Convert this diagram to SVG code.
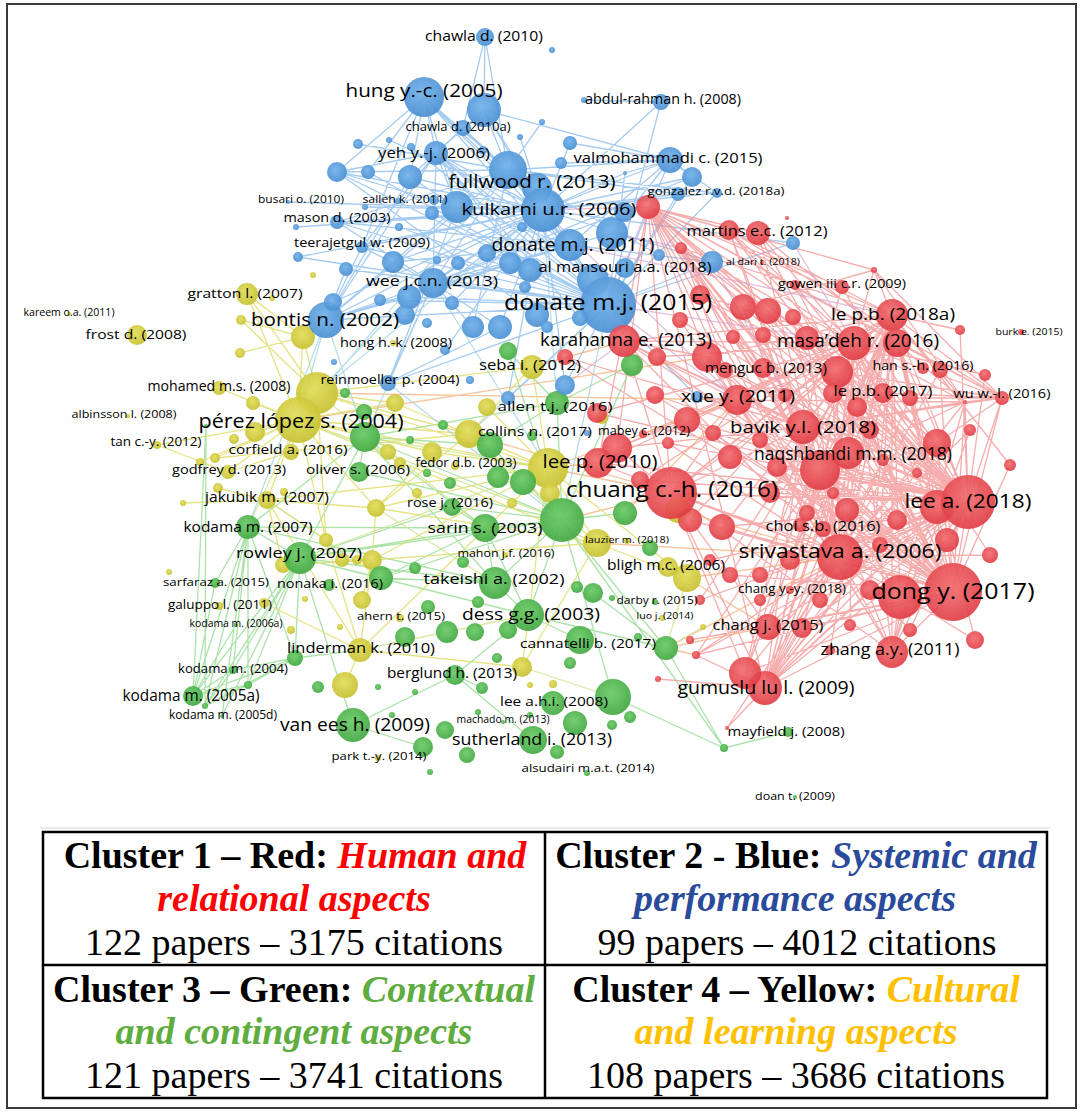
<svg xmlns="http://www.w3.org/2000/svg" width="1081" height="1117" viewBox="0 0 1081 1117">
<defs>
<radialGradient id="gb" cx="45%" cy="40%" r="60%"><stop offset="0" stop-color="#72b2ea"/><stop offset="1" stop-color="#4a8fd2"/></radialGradient>
<radialGradient id="gr" cx="45%" cy="40%" r="60%"><stop offset="0" stop-color="#f26e70"/><stop offset="1" stop-color="#df3a42"/></radialGradient>
<radialGradient id="gg" cx="45%" cy="40%" r="60%"><stop offset="0" stop-color="#6acb66"/><stop offset="1" stop-color="#42a842"/></radialGradient>
<radialGradient id="gy" cx="45%" cy="40%" r="60%"><stop offset="0" stop-color="#e2de5c"/><stop offset="1" stop-color="#c6c030"/></radialGradient>
<style>
.e{fill:none;stroke-width:1.3;stroke-linecap:round}
.eb{stroke:#95c2ee;opacity:.85}
.er{stroke:#f28686;opacity:.68}
.eg{stroke:#96dc93;opacity:.8}
.ey{stroke:#e2de70;opacity:.85}
.ep{stroke:#d4a0d0;opacity:.65}
.eo{stroke:#f3aa72;opacity:.7}
.el{stroke:#c9e385;opacity:.75}
.ec{stroke:#a2d3e2;opacity:.75}
.b circle{fill:url(#gb);fill-opacity:.92}
.r circle{fill:url(#gr);fill-opacity:.9}
.g circle{fill:url(#gg);fill-opacity:.92}
.y circle{fill:url(#gy);fill-opacity:.92}
.lb text{font-family:"Open Sans","Noto Sans","DejaVu Sans",sans-serif;fill:#000;text-anchor:middle}
.tb text{font-family:"Liberation Serif","Times New Roman",serif;font-size:38px;text-anchor:middle;fill:#000}
.tb .bd{font-weight:bold}
.tb .it{font-weight:bold;font-style:italic}
.tb .cr{fill:#ff0000}
.tb .cb{fill:#2a4b9b}
.tb .cg{fill:#5fad3f}
.tb .cy{fill:#ffc000}
</style>
</defs>
<rect x="0" y="0" width="1081" height="1117" fill="#fff"/>
<rect id="frame" x="7" y="4" width="1069" height="1104" fill="none" stroke="#3a3a3a" stroke-width="2"/>
<line x1="40" y1="828" x2="1050" y2="828" stroke="#e4e4e4" stroke-width="1.5"/>

<g id="connectors">
<path class="e eb" d="M424 97L337 172M424 97L368 172M424 97L436 153M424 97L508 170M424 97L543 210M424 97L457 207M424 97L362 247M424 97L410 177M424 97L570 245M424 97L608 305M485 37L463 128M485 37L484 110M485 37L508 170M484 110L508 170M484 110L543 210M484 110L670 160M484 110L608 305M484 110L436 153M463 128L436 153M463 128L543 210M463 128L508 170M463 128L410 177M436 153L337 172M436 153L410 177M436 153L457 207M436 153L543 210M436 153L570 245M436 153L608 305M436 153L362 247M436 153L433 283M436 153L326 320M436 153L398 201M337 172L543 210M337 172L508 170M337 172L608 305M337 172L457 207M508 170L670 160M508 170L608 305M508 170L570 245M508 170L543 210M508 170L326 320M508 170L433 283M508 170L337 222M508 170L717 193M508 170L678 194M543 210L670 160M543 210L692 177M543 210L678 194M543 210L717 193M543 210L608 305M543 210L326 320M543 210L433 283M543 210L362 247M543 210L298 257M543 210L337 222M543 210L365 207M543 210L288 202M543 210L793 243M543 210L712 262M543 210L661 102M543 210L570 143M543 210L625 173M608 305L670 160M608 305L692 177M608 305L678 194M608 305L717 193M608 305L326 320M608 305L433 283M608 305L388 383M608 305L362 247M608 305L346 269M608 305L409 297M608 305L337 222M608 305L565 385M608 305L697 397M608 305L508 398M608 305L793 243M608 305L712 262M608 305L661 102M608 305L625 173M570 245L326 320M570 245L433 283M570 245L409 297M570 245L393 262M570 245L337 222M570 245L670 160M570 245L712 262M326 320L433 283M326 320L409 297M326 320L393 262M326 320L346 269M326 320L362 247M326 320L457 207M326 320L410 177M433 283L337 222M433 283L362 247M433 283L500 327M433 283L473 327M433 283L388 383M670 160L625 173M670 160L692 177M670 160L717 193M670 160L612 233M670 160L570 143M670 160L561 163M661 102L584 100M388 383L457 207M388 383L500 327M389 140L543 210M358 144L508 170M520 137L543 210M542 122L508 170M411 147L608 305M368 172L608 305M410 177L543 210M410 177L608 305M457 207L608 305M457 207L570 245M432 213L608 305M434 200L543 210M296 227L543 210M399 227L608 305M298 257L608 305M393 262L543 210M487 253L608 305M510 263L326 320M612 233L326 320M624 212L433 283M659 255L508 170M409 297L543 210M530 270L436 153M593 280L436 153M333 302L543 210M405 315L543 210M500 327L543 210M473 327L508 170M565 385L543 210M508 398L543 210M452 303L543 210M537 315L337 172M380 300L608 305M580 318L436 153M445 350L543 210M692 177L433 283"/>
<path class="e er" d="M648 207L892 315M648 207L854 343M648 207L897 343M648 207L837 372M648 207L803 427M648 207L820 470M648 207L848 453M648 207L937 443M648 207L968 502M648 207L840 557M648 207L953 592M648 207L900 597M648 207L737 400M648 207L707 357M648 207L743 307M648 207L768 311M648 207L729 230M648 207L758 233M648 207L874 270M648 207L671 493M648 207L617 448M648 207L598 463M648 207L765 688M648 207L892 652M648 207L1002 398M648 207L842 287M648 207L807 338M681 248L854 343M681 248L892 315M681 248L803 427M681 248L840 557M681 248L968 502M681 248L953 592M681 248L737 400M681 248L820 470M681 248L937 443M729 230L892 315M729 230L854 343M729 230L837 372M729 230L803 427M729 230L968 502M729 230L840 557M758 233L953 592M758 233L820 470M758 233L897 343M758 233L937 443M874 270L892 315M874 270L1002 398M874 270L854 343M874 270L743 307M874 270L965 402M842 287L968 502M842 287L803 427M1002 398L965 402M1002 398L892 315M1002 398L897 343M1002 398L837 372M1002 398L937 443M1002 398L968 502M1002 398L953 592M1002 398L803 427M1002 398L883 393M1002 398L910 398M1002 398L854 343M965 402L854 343M965 402L892 315M965 402L803 427M965 402L968 502M965 402L820 470M965 402L840 557M965 402L953 592M965 402L892 652M965 402L897 343M965 402L737 400M892 315L968 502M892 315L953 592M892 315L840 557M892 315L803 427M892 315L820 470M892 315L737 400M892 315L671 493M892 315L707 357M892 315L892 652M892 315L765 688M892 315L900 597M854 343L968 502M854 343L953 592M854 343L840 557M854 343L737 400M854 343L671 493M854 343L892 652M854 343L765 688M854 343L820 470M897 343L840 557M897 343L953 592M897 343L968 502M897 343L820 470M897 343L737 400M837 372L953 592M837 372L968 502M837 372L671 493M837 372L840 557M737 400L953 592M737 400L968 502M737 400L840 557M737 400L671 493M737 400L900 597M737 400L892 652M803 427L953 592M803 427L968 502M803 427L840 557M803 427L671 493M803 427L765 688M803 427L892 652M820 470L953 592M820 470L968 502M820 470L840 557M820 470L765 688M820 470L892 652M820 470L768 627M820 470L900 597M937 443L953 592M937 443L840 557M937 443L892 652M937 443L765 688M968 502L953 592M968 502L840 557M968 502L892 652M968 502L765 688M968 502L768 627M968 502L671 493M968 502L900 597M840 557L953 592M840 557L765 688M840 557L892 652M840 557L768 627M840 557L671 493M840 557L727 728M840 557L745 673M953 592L892 652M953 592L765 688M953 592L768 627M953 592L802 628M953 592L671 493M953 592L745 673M671 493L765 688M671 493L768 627M671 493L892 652M671 493L617 448M671 493L745 673M765 688L727 728M765 688L696 655M765 688L802 628M765 688L658 679M745 673L803 427M745 673L854 343M745 673L892 315M617 448L737 400M617 448L803 427M617 448L854 343M707 357L968 502M707 357L953 592M707 357L840 557M743 307L968 502M743 307L840 557M743 307L820 470M768 311L953 592M768 311L803 427M624 341L737 400M624 341L803 427M624 341L854 343M624 341L892 315M624 341L968 502M624 341L840 557M624 341L707 357M624 341L671 493M624 341L820 470M696 655L840 557M696 655L968 502M696 655L953 592M696 655L820 470M598 463L737 400M598 463L840 557M598 463L968 502M700 295L854 343M700 295L837 372M700 295L968 502M657 357L854 343M657 357L968 502M657 357L953 592M892 652L900 597M687 420L854 343M687 420L968 502M687 420L953 592M730 457L892 315M730 457L953 592M793 317L953 592M793 317L968 502M793 317L840 557M733 337L968 502M733 337L953 592M763 335L840 557M763 335L968 502M807 338L953 592M807 338L840 557M807 338L968 502M725 370L968 502M725 370L953 592M833 393L953 592M833 393L840 557M857 407L953 592M857 407L765 688M910 398L953 592M910 398L840 557M917 473L953 592M713 433L968 502M713 433L953 592M668 443L968 502M668 443L840 557M777 467L953 592M777 467L968 502M883 460L765 688M883 460L953 592M770 493L953 592M770 493L968 502M770 493L892 315M833 493L854 343M833 493L953 592M807 513L892 315M807 513L953 592M847 510L854 343M847 510L892 315M847 510L765 688M897 520L765 688M897 520L854 343M937 507L854 343M937 507L892 315M937 507L765 688M937 507L840 557M722 527L968 502M722 527L892 315M722 527L953 592M690 520L953 592M690 520L854 343M597 413L854 343M597 413L968 502M565 357L803 427M565 357L953 592M947 540L854 343M947 540L765 688M802 628L892 315M802 628L968 502M790 560L892 315M790 560L968 502M760 575L968 502M760 575L854 343M730 575L953 592M730 575L892 315M710 560L968 502M820 600L968 502M820 600L854 343M870 590L765 688M870 590L892 315M880 545L765 688M880 545L892 315M910 630L968 502M910 630L840 557M975 640L840 557M975 640L892 315M990 555L854 343M990 555L840 557M1010 465L892 315M1010 465L953 592M970 430L840 557M970 430L892 652M940 370L840 557M940 370L953 592M985 375L968 502M985 375L854 343M960 330L968 502M960 330L892 315M795 285L968 502M795 285L953 592M680 320L968 502M680 320L840 557M655 395L968 502M655 395L953 592M640 480L968 502M640 480L892 315M700 600L968 502M700 600L892 315M760 600L892 315M760 600L968 502M830 650L892 315M850 625L854 343M690 640L953 592M800 525L892 315M800 525L953 592M870 430L953 592M870 430L765 688M760 440L953 592M760 440L892 652M785 395L968 502M785 395L840 557M823 529L892 315M790 590L892 315M790 590L968 502M643 434L854 343M729 230L1002 398"/>
<path class="e ep" d="M608 305L737 400M608 305L854 343M543 210L737 400M570 245L892 315M608 305L648 207M543 210L648 207M612 233L681 248M565 385L624 341M697 397L737 400M712 262L803 427M793 243L854 343"/>
<path class="e eo" d="M548 468L671 493M548 468L737 400M298 420L707 357M317 393L737 400M469 434L671 493M687 578L840 557M687 578L768 627M597 543L840 557M666 648L840 557M666 648L768 627M666 648L696 655M562 520L671 493M625 513L737 400M548 468L598 463M532 367L624 341M678 510L840 557"/>
<path class="e eg" d="M193 696L248 527M193 696L300 558M193 696L233 670M193 696L248 685M193 696L295 658M193 696L215 583M193 696L206 426M193 696L236 625M205 706L248 527M205 706L300 558M205 706L233 670M205 706L248 685M205 706L295 658M233 670L248 527M233 670L300 558M233 670L295 658M248 685L248 527M248 685L300 558M248 685L295 658M295 658L248 527M295 658L300 558M295 658L360 650M215 583L248 527M222 716L248 527M222 716L300 558M206 426L205 706M562 520L485 528M562 520L495 583M562 520L528 615M562 520L557 403M562 520L365 437M562 520L359 472M562 520L452 507M562 520L300 558M562 520L381 578M562 520L666 648M562 520L625 513M562 520L632 365M562 520L508 351M562 520L613 697M562 520L724 748M562 520L490 445M495 583L300 558M495 583L381 578M495 583L528 615M495 583L365 437M495 583L485 528M495 583L248 527M528 615L485 528M528 615L300 558M528 615L666 648M528 615L455 675M528 615L580 640M365 437L485 528M365 437L300 558M365 437L557 403M365 437L490 445M365 437L248 527M365 437L359 472M300 558L485 528M300 558L381 578M300 558L452 507M300 558L248 527M300 558L353 725M557 403L490 445M557 403L632 365M557 403L508 351M666 648L593 593M613 697L724 748M353 725L455 675M353 725L423 747M455 675L533 740M455 675L482 688M485 528L452 507M485 528L381 578M248 527L365 437M248 527L485 528M724 748L666 648M724 748L788 732"/>
<path class="e ey" d="M298 420L247 294M298 420L303 337M298 420L317 393M298 420L253 403M298 420L255 432M298 420L291 452M298 420L228 472M298 420L267 500M298 420L376 508M298 420L395 403M298 420L469 434M298 420L548 468M298 420L219 388M298 420L157 445M298 420L200 462M298 420L215 458M298 420L388 452M298 420L326 540M298 420L432 452M298 420L597 543M317 393L247 294M317 393L303 337M317 393L469 434M317 393L548 468M317 393L395 403M317 393L241 320M317 393L326 540M317 393L532 367M548 468L469 434M548 468L532 367M548 468L487 407M548 468L597 543M548 468L687 578M548 468L376 508M548 468L432 452M548 468L360 650M548 468L267 500M548 468L395 403M548 468L522 667M548 468L372 560M267 500L326 540M267 500L376 508M267 500L360 650M267 500L283 565M267 500L183 503M267 500L218 488M360 650L522 667M360 650L345 685M360 650L372 560M360 650L326 540M360 650L264 603M469 434L532 367M469 434L597 543M469 434L376 508M303 337L247 294M303 337L241 320M303 337L240 353M228 472L291 452M228 472L157 445M228 472L200 462M376 508L372 560M376 508L597 543M376 508L432 452M372 560L283 565M372 560L342 560M372 560L362 600M372 560L597 543M597 543L687 578M597 543L522 667M215 458L469 434"/>
<path class="e el" d="M300 558L548 468M365 437L548 468M495 583L376 508M248 527L298 420M562 520L298 420M528 615L360 650M613 697L522 667M666 648L687 578M666 648L703 627M562 520L469 434M485 528L317 393M381 578L267 500"/>
<path class="e ec" d="M326 320L365 437M326 320L298 420M433 283L365 437M388 383L562 520M409 297L317 393M608 305L562 520M543 210L557 403M570 245L632 365M326 320L248 527M433 283L548 468M508 170L298 420M608 305L469 434M543 210L317 393"/>
</g>

<g id="nodes">
<g id="cluster-yellow" class="y">
<circle cx="247" cy="294" r="11" id="node-gratton"/><circle cx="272" cy="298" r="3"/><circle cx="241" cy="320" r="5"/><circle cx="137" cy="335" r="10" id="node-frost"/><circle cx="303" cy="337" r="12"/><circle cx="240" cy="353" r="5"/><circle cx="219" cy="388" r="7" id="node-mohamed"/><circle cx="317" cy="393" r="21"/><circle cx="253" cy="403" r="7"/><circle cx="395" cy="403" r="9"/><circle cx="298" cy="420" r="23" id="node-perez"/><circle cx="255" cy="432" r="10"/><circle cx="157" cy="445" r="4" id="node-tan"/><circle cx="291" cy="452" r="8" id="node-corfield"/><circle cx="234" cy="439" r="5"/><circle cx="215" cy="458" r="5"/><circle cx="200" cy="462" r="4"/><circle cx="228" cy="472" r="7" id="node-godfrey"/><circle cx="388" cy="452" r="8"/><circle cx="400" cy="463" r="6"/><circle cx="469" cy="434" r="14"/><circle cx="267" cy="500" r="9" id="node-jakubik"/><circle cx="183" cy="503" r="3"/><circle cx="218" cy="488" r="5"/><circle cx="284" cy="492" r="4"/><circle cx="376" cy="508" r="9"/><circle cx="326" cy="540" r="7"/><circle cx="532" cy="367" r="12" id="node-seba"/><circle cx="487" cy="407" r="9"/><circle cx="548" cy="468" r="20"/><circle cx="597" cy="543" r="14"/><circle cx="687" cy="578" r="14" id="node-bligh"/><circle cx="668" cy="567" r="10"/><circle cx="360" cy="650" r="12" id="node-linderman"/><circle cx="522" cy="667" r="10"/><circle cx="393" cy="343" r="3" id="node-hong"/><circle cx="313" cy="275" r="3"/><circle cx="169" cy="572" r="3"/><circle cx="219" cy="606" r="4" id="node-galuppo"/><circle cx="264" cy="603" r="5"/><circle cx="291" cy="630" r="4"/><circle cx="345" cy="685" r="13"/><circle cx="305" cy="599" r="3"/><circle cx="362" cy="600" r="9"/><circle cx="340" cy="627" r="3"/><circle cx="550" cy="493" r="10"/><circle cx="512" cy="503" r="5"/><circle cx="432" cy="452" r="10"/><circle cx="417" cy="493" r="5"/><circle cx="357" cy="560" r="5"/><circle cx="678" cy="510" r="13"/><circle cx="602" cy="418" r="6"/><circle cx="400" cy="618" r="4" id="node-ahern"/><circle cx="703" cy="627" r="3"/><circle cx="553" cy="684" r="4"/><circle cx="530" cy="685" r="3"/><circle cx="283" cy="565" r="8"/><circle cx="342" cy="560" r="7"/><circle cx="372" cy="560" r="10"/><circle cx="69" cy="314" r="2" id="node-kareem"/><circle cx="128" cy="416" r="2" id="node-albinsson"/><circle cx="455" cy="466" r="4" id="node-fedor"/><circle cx="627" cy="541" r="3" id="node-lauzier"/><circle cx="505" cy="555" r="3" id="node-mahon"/><circle cx="662" cy="618" r="3" id="node-luo"/><circle cx="378" cy="758" r="3" id="node-park"/>
</g>
<g id="cluster-green" class="g">
<circle cx="632" cy="365" r="11"/><circle cx="508" cy="351" r="9"/><circle cx="557" cy="403" r="12" id="node-allen"/><circle cx="490" cy="445" r="13"/><circle cx="523" cy="482" r="13"/><circle cx="498" cy="477" r="11"/><circle cx="365" cy="437" r="15"/><circle cx="345" cy="393" r="5"/><circle cx="364" cy="412" r="8"/><circle cx="359" cy="472" r="10" id="node-oliver"/><circle cx="452" cy="507" r="9" id="node-rose"/><circle cx="485" cy="528" r="14" id="node-sarin"/><circle cx="562" cy="520" r="22"/><circle cx="625" cy="513" r="12"/><circle cx="495" cy="583" r="16" id="node-takeishi"/><circle cx="300" cy="558" r="16" id="node-rowley"/><circle cx="248" cy="527" r="12" id="node-kodama2007"/><circle cx="381" cy="578" r="12"/><circle cx="329" cy="585" r="6" id="node-nonaka"/><circle cx="215" cy="583" r="5" id="node-sarfaraz"/><circle cx="528" cy="615" r="16" id="node-dess"/><circle cx="666" cy="648" r="12"/><circle cx="455" cy="675" r="10" id="node-berglund"/><circle cx="193" cy="696" r="10" id="node-kodama2005a"/><circle cx="233" cy="670" r="4" id="node-kodama2004"/><circle cx="248" cy="685" r="4"/><circle cx="205" cy="706" r="3"/><circle cx="295" cy="658" r="8"/><circle cx="353" cy="725" r="17" id="node-vanees"/><circle cx="533" cy="740" r="14" id="node-sutherland"/><circle cx="423" cy="747" r="10"/><circle cx="467" cy="755" r="8"/><circle cx="575" cy="723" r="12"/><circle cx="613" cy="697" r="18"/><circle cx="630" cy="717" r="6"/><circle cx="612" cy="725" r="5"/><circle cx="724" cy="748" r="4"/><circle cx="795" cy="797" r="2" id="node-doan"/><circle cx="788" cy="732" r="5" id="node-mayfield"/><circle cx="415" cy="568" r="6"/><circle cx="463" cy="562" r="6"/><circle cx="577" cy="587" r="6"/><circle cx="593" cy="593" r="10"/><circle cx="478" cy="602" r="6"/><circle cx="428" cy="607" r="7"/><circle cx="447" cy="632" r="11"/><circle cx="475" cy="632" r="9"/><circle cx="508" cy="630" r="9"/><circle cx="580" cy="640" r="14" id="node-cannatelli"/><circle cx="405" cy="637" r="10"/><circle cx="497" cy="658" r="5"/><circle cx="570" cy="663" r="6"/><circle cx="482" cy="688" r="6"/><circle cx="318" cy="687" r="6"/><circle cx="378" cy="687" r="3"/><circle cx="415" cy="692" r="3"/><circle cx="445" cy="730" r="9"/><circle cx="557" cy="752" r="7"/><circle cx="430" cy="772" r="3"/><circle cx="587" cy="773" r="3" id="node-alsudairi"/><circle cx="392" cy="715" r="3"/><circle cx="478" cy="712" r="3"/><circle cx="530" cy="715" r="3"/><circle cx="206" cy="426" r="2"/><circle cx="443" cy="425" r="5"/><circle cx="410" cy="440" r="4"/><circle cx="450" cy="483" r="6"/><circle cx="427" cy="473" r="4"/><circle cx="650" cy="548" r="8"/><circle cx="612" cy="598" r="3"/><circle cx="638" cy="637" r="4"/><circle cx="532" cy="436" r="5" id="node-collins"/><circle cx="655" cy="602" r="3" id="node-darby"/><circle cx="236" cy="625" r="2" id="node-kodama2006a"/><circle cx="553" cy="703" r="12" id="node-leeahi"/><circle cx="222" cy="716" r="2" id="node-kodama2005d"/><circle cx="503" cy="722" r="2" id="node-machado"/>
</g>
<g id="cluster-blue" class="b">
<circle cx="485" cy="37" r="9" id="node-chawla2010"/><circle cx="424" cy="97" r="20" id="node-hung"/><circle cx="484" cy="110" r="17"/><circle cx="463" cy="128" r="8" id="node-chawla2010a"/><circle cx="389" cy="140" r="3"/><circle cx="358" cy="144" r="5"/><circle cx="520" cy="137" r="3"/><circle cx="552" cy="50" r="3"/><circle cx="584" cy="100" r="3"/><circle cx="661" cy="102" r="8" id="node-abdulrahman"/><circle cx="542" cy="122" r="3"/><circle cx="436" cy="153" r="12" id="node-yeh"/><circle cx="411" cy="147" r="4"/><circle cx="337" cy="172" r="10"/><circle cx="368" cy="172" r="7"/><circle cx="410" cy="177" r="12"/><circle cx="508" cy="170" r="19"/><circle cx="570" cy="143" r="7"/><circle cx="561" cy="163" r="6"/><circle cx="670" cy="160" r="13" id="node-valmohammadi"/><circle cx="692" cy="177" r="10"/><circle cx="625" cy="173" r="2"/><circle cx="678" cy="194" r="7"/><circle cx="717" cy="193" r="5" id="node-gonzalez"/><circle cx="288" cy="202" r="2" id="node-busari"/><circle cx="365" cy="207" r="3"/><circle cx="398" cy="201" r="3" id="node-salleh"/><circle cx="457" cy="207" r="16"/><circle cx="432" cy="213" r="7"/><circle cx="537" cy="188" r="15" id="node-fullwood"/><circle cx="543" cy="210" r="22" id="node-kulkarni"/><circle cx="434" cy="200" r="5"/><circle cx="337" cy="222" r="7" id="node-mason"/><circle cx="296" cy="227" r="3"/><circle cx="399" cy="227" r="4"/><circle cx="362" cy="247" r="6" id="node-teerajetgul"/><circle cx="298" cy="257" r="5"/><circle cx="346" cy="269" r="7"/><circle cx="393" cy="262" r="11"/><circle cx="487" cy="253" r="9"/><circle cx="510" cy="263" r="11"/><circle cx="570" cy="245" r="16" id="node-donate2011"/><circle cx="612" cy="233" r="16"/><circle cx="624" cy="212" r="10"/><circle cx="793" cy="243" r="7"/><circle cx="659" cy="255" r="6"/><circle cx="712" cy="262" r="11"/><circle cx="625" cy="268" r="10" id="node-almansouri"/><circle cx="433" cy="283" r="15" id="node-wee"/><circle cx="409" cy="297" r="12"/><circle cx="530" cy="270" r="12"/><circle cx="593" cy="280" r="16"/><circle cx="608" cy="305" r="28" id="node-donate2015"/><circle cx="326" cy="320" r="18" id="node-bontis"/><circle cx="333" cy="302" r="9"/><circle cx="405" cy="315" r="10"/><circle cx="500" cy="327" r="12"/><circle cx="473" cy="327" r="11"/><circle cx="334" cy="362" r="3"/><circle cx="388" cy="383" r="8" id="node-reinmoeller"/><circle cx="565" cy="385" r="10"/><circle cx="508" cy="398" r="7"/><circle cx="587" cy="433" r="3"/><circle cx="697" cy="397" r="6"/><circle cx="452" cy="303" r="7"/><circle cx="537" cy="315" r="12"/><circle cx="547" cy="327" r="6"/><circle cx="525" cy="287" r="6"/><circle cx="522" cy="227" r="5"/><circle cx="437" cy="260" r="4"/><circle cx="458" cy="263" r="7"/><circle cx="483" cy="150" r="4"/><circle cx="427" cy="323" r="5"/><circle cx="380" cy="300" r="6"/><circle cx="580" cy="318" r="8"/><circle cx="470" cy="380" r="4"/><circle cx="445" cy="350" r="5"/>
</g>
<g id="cluster-red" class="r">
<circle cx="648" cy="207" r="12"/><circle cx="729" cy="230" r="10"/><circle cx="758" cy="233" r="12" id="node-martins"/><circle cx="787" cy="218" r="2"/><circle cx="681" cy="248" r="6"/><circle cx="762" cy="263" r="2" id="node-aldari"/><circle cx="874" cy="270" r="3"/><circle cx="842" cy="287" r="7" id="node-gowen"/><circle cx="892" cy="315" r="16" id="node-lepb2018a"/><circle cx="1021" cy="332" r="3" id="node-burk"/><circle cx="854" cy="343" r="17" id="node-masadeh"/><circle cx="897" cy="343" r="14"/><circle cx="743" cy="307" r="13"/><circle cx="768" cy="311" r="13"/><circle cx="793" cy="317" r="8"/><circle cx="707" cy="357" r="15"/><circle cx="733" cy="337" r="7"/><circle cx="763" cy="335" r="8"/><circle cx="807" cy="338" r="12"/><circle cx="657" cy="357" r="9"/><circle cx="837" cy="372" r="16"/><circle cx="725" cy="370" r="8"/><circle cx="763" cy="368" r="10" id="node-menguc"/><circle cx="923" cy="368" r="6" id="node-han"/><circle cx="1002" cy="398" r="7" id="node-wu"/><circle cx="965" cy="402" r="2"/><circle cx="737" cy="400" r="15" id="node-xue"/><circle cx="803" cy="427" r="17" id="node-bavik"/><circle cx="833" cy="393" r="10"/><circle cx="857" cy="407" r="10"/><circle cx="883" cy="393" r="10" id="node-lepb2017"/><circle cx="910" cy="398" r="8"/><circle cx="820" cy="470" r="20"/><circle cx="848" cy="453" r="16" id="node-naqshbandi"/><circle cx="937" cy="443" r="14"/><circle cx="917" cy="473" r="5"/><circle cx="730" cy="457" r="12"/><circle cx="687" cy="420" r="13"/><circle cx="713" cy="433" r="8"/><circle cx="668" cy="443" r="6"/><circle cx="777" cy="467" r="10"/><circle cx="883" cy="460" r="6"/><circle cx="770" cy="493" r="10"/><circle cx="833" cy="493" r="6"/><circle cx="807" cy="513" r="8"/><circle cx="847" cy="510" r="12"/><circle cx="897" cy="520" r="10"/><circle cx="937" cy="507" r="17"/><circle cx="968" cy="502" r="27" id="node-leea"/><circle cx="722" cy="527" r="13"/><circle cx="690" cy="520" r="12"/><circle cx="671" cy="493" r="26" id="node-chuang"/><circle cx="617" cy="448" r="15"/><circle cx="597" cy="413" r="10"/><circle cx="598" cy="463" r="15" id="node-leep"/><circle cx="624" cy="341" r="16" id="node-karahanna"/><circle cx="565" cy="357" r="8"/><circle cx="840" cy="557" r="23" id="node-srivastava"/><circle cx="953" cy="592" r="29" id="node-dong"/><circle cx="900" cy="597" r="22"/><circle cx="947" cy="540" r="12"/><circle cx="768" cy="627" r="13" id="node-changj"/><circle cx="802" cy="628" r="10"/><circle cx="892" cy="652" r="16" id="node-zhang"/><circle cx="765" cy="688" r="17" id="node-gumuslu"/><circle cx="745" cy="673" r="16"/><circle cx="727" cy="728" r="2"/><circle cx="696" cy="655" r="4"/><circle cx="658" cy="679" r="3"/><circle cx="790" cy="560" r="10"/><circle cx="760" cy="575" r="8"/><circle cx="730" cy="575" r="8"/><circle cx="710" cy="560" r="6"/><circle cx="820" cy="600" r="8"/><circle cx="870" cy="590" r="10"/><circle cx="880" cy="545" r="8"/><circle cx="910" cy="630" r="7"/><circle cx="975" cy="640" r="9"/><circle cx="990" cy="555" r="8"/><circle cx="1010" cy="465" r="6"/><circle cx="970" cy="430" r="6"/><circle cx="940" cy="370" r="8"/><circle cx="985" cy="375" r="6"/><circle cx="960" cy="330" r="5"/><circle cx="795" cy="285" r="5"/><circle cx="700" cy="295" r="10"/><circle cx="680" cy="320" r="8"/><circle cx="655" cy="395" r="9"/><circle cx="640" cy="480" r="9"/><circle cx="700" cy="600" r="5"/><circle cx="760" cy="600" r="6"/><circle cx="830" cy="650" r="5"/><circle cx="850" cy="625" r="6"/><circle cx="690" cy="640" r="4"/><circle cx="800" cy="525" r="7"/><circle cx="870" cy="430" r="9"/><circle cx="760" cy="440" r="8"/><circle cx="785" cy="395" r="7"/><circle cx="823" cy="529" r="8" id="node-choi"/><circle cx="790" cy="590" r="4" id="node-changyy"/><circle cx="643" cy="434" r="4" id="node-mabey"/>
</g>
</g>

<g id="labels" class="lb">
<text x="484" y="41" font-size="14.4" textLength="118" lengthAdjust="spacingAndGlyphs">chawla d. (2010)</text>
<text x="424" y="97" font-size="18" textLength="157" lengthAdjust="spacingAndGlyphs">hung y.-c. (2005)</text>
<text x="458" y="131" font-size="12.1" textLength="105" lengthAdjust="spacingAndGlyphs">chawla d. (2010a)</text>
<text x="663" y="104" font-size="13.8" textLength="156" lengthAdjust="spacingAndGlyphs">abdul-rahman h. (2008)</text>
<text x="434" y="158" font-size="13.7" textLength="112" lengthAdjust="spacingAndGlyphs">yeh y.-j. (2006)</text>
<text x="668" y="163" font-size="15.3" textLength="189" lengthAdjust="spacingAndGlyphs">valmohammadi c. (2015)</text>
<text x="301" y="203" font-size="10.6" textLength="86" lengthAdjust="spacingAndGlyphs">busari o. (2010)</text>
<text x="405" y="203" font-size="10.4" textLength="85" lengthAdjust="spacingAndGlyphs">salleh k. (2011)</text>
<text x="532" y="188" font-size="17.3" textLength="167" lengthAdjust="spacingAndGlyphs">fullwood r. (2013)</text>
<text x="716" y="195" font-size="11.6" textLength="137" lengthAdjust="spacingAndGlyphs">gonzalez r.v.d. (2018a)</text>
<text x="549" y="215" font-size="17" textLength="175" lengthAdjust="spacingAndGlyphs">kulkarni u.r. (2006)</text>
<text x="337" y="222" font-size="13" textLength="107" lengthAdjust="spacingAndGlyphs">mason d. (2003)</text>
<text x="757" y="236" font-size="14" textLength="141" lengthAdjust="spacingAndGlyphs">martins e.c. (2012)</text>
<text x="362" y="247" font-size="12.6" textLength="136" lengthAdjust="spacingAndGlyphs">teerajetgul w. (2009)</text>
<text x="573" y="251" font-size="17.3" textLength="163" lengthAdjust="spacingAndGlyphs">donate m.j. (2011)</text>
<text x="625" y="272" font-size="14.6" textLength="173" lengthAdjust="spacingAndGlyphs">al mansouri a.a. (2018)</text>
<text x="763" y="265" font-size="8.6" textLength="74" lengthAdjust="spacingAndGlyphs">al dari t. (2018)</text>
<text x="432" y="286" font-size="14.6" textLength="132" lengthAdjust="spacingAndGlyphs">wee j.c.n. (2013)</text>
<text x="842" y="288" font-size="11.9" textLength="128" lengthAdjust="spacingAndGlyphs">gowen iii c.r. (2009)</text>
<text x="245" y="298" font-size="13.2" textLength="115" lengthAdjust="spacingAndGlyphs">gratton l. (2007)</text>
<text x="608" y="310" font-size="22" textLength="208" lengthAdjust="spacingAndGlyphs">donate m.j. (2015)</text>
<text x="69" y="316" font-size="9.9" textLength="91" lengthAdjust="spacingAndGlyphs">kareem o.a. (2011)</text>
<text x="325" y="326" font-size="17.8" textLength="148" lengthAdjust="spacingAndGlyphs">bontis n. (2002)</text>
<text x="893" y="320" font-size="16.2" textLength="124" lengthAdjust="spacingAndGlyphs">le p.b. (2018a)</text>
<text x="136" y="339" font-size="13.2" textLength="101" lengthAdjust="spacingAndGlyphs">frost d. (2008)</text>
<text x="1029" y="335" font-size="9.4" textLength="67" lengthAdjust="spacingAndGlyphs">burk e. (2015)</text>
<text x="626" y="346" font-size="17.7" textLength="172" lengthAdjust="spacingAndGlyphs">karahanna e. (2013)</text>
<text x="396" y="347" font-size="12.9" textLength="112" lengthAdjust="spacingAndGlyphs">hong h.-k. (2008)</text>
<text x="858" y="347" font-size="17.3" textLength="162" lengthAdjust="spacingAndGlyphs">masa’deh r. (2016)</text>
<text x="530" y="370" font-size="14.3" textLength="102" lengthAdjust="spacingAndGlyphs">seba i. (2012)</text>
<text x="766" y="373" font-size="14.4" textLength="122" lengthAdjust="spacingAndGlyphs">menguc b. (2013)</text>
<text x="923" y="370" font-size="12.3" textLength="101" lengthAdjust="spacingAndGlyphs">han s.-h. (2016)</text>
<text x="219" y="391" font-size="14" textLength="143" lengthAdjust="spacingAndGlyphs">mohamed m.s. (2008)</text>
<text x="390" y="384" font-size="12.6" textLength="139" lengthAdjust="spacingAndGlyphs">reinmoeller p. (2004)</text>
<text x="883" y="396" font-size="13.8" textLength="99" lengthAdjust="spacingAndGlyphs">le p.b. (2017)</text>
<text x="1002" y="398" font-size="12.2" textLength="97" lengthAdjust="spacingAndGlyphs">wu w.-l. (2016)</text>
<text x="738" y="402" font-size="17.2" textLength="114" lengthAdjust="spacingAndGlyphs">xue y. (2011)</text>
<text x="124" y="418" font-size="10.8" textLength="105" lengthAdjust="spacingAndGlyphs">albinsson l. (2008)</text>
<text x="301" y="428" font-size="19.1" textLength="205" lengthAdjust="spacingAndGlyphs">pérez lópez s. (2004)</text>
<text x="555" y="411" font-size="13.3" textLength="115" lengthAdjust="spacingAndGlyphs">allen t.j. (2016)</text>
<text x="803" y="433" font-size="16.8" textLength="146" lengthAdjust="spacingAndGlyphs">bavik y.l. (2018)</text>
<text x="156" y="446" font-size="11.9" textLength="91" lengthAdjust="spacingAndGlyphs">tan c.-y. (2012)</text>
<text x="535" y="436" font-size="13.2" textLength="114" lengthAdjust="spacingAndGlyphs">collins n. (2017)</text>
<text x="644" y="435" font-size="11.9" textLength="92" lengthAdjust="spacingAndGlyphs">mabey c. (2012)</text>
<text x="288" y="454" font-size="13" textLength="119" lengthAdjust="spacingAndGlyphs">corfield a. (2016)</text>
<text x="853" y="460" font-size="17.3" textLength="198" lengthAdjust="spacingAndGlyphs">naqshbandi m.m. (2018)</text>
<text x="229" y="474" font-size="13.2" textLength="114" lengthAdjust="spacingAndGlyphs">godfrey d. (2013)</text>
<text x="358" y="474" font-size="12.7" textLength="104" lengthAdjust="spacingAndGlyphs">oliver s. (2006)</text>
<text x="466" y="467" font-size="11.7" textLength="101" lengthAdjust="spacingAndGlyphs">fedor d.b. (2003)</text>
<text x="600" y="468" font-size="17.3" textLength="115" lengthAdjust="spacingAndGlyphs">lee p. (2010)</text>
<text x="672" y="497" font-size="21.8" textLength="212" lengthAdjust="spacingAndGlyphs">chuang c.-h. (2016)</text>
<text x="968" y="508" font-size="19.1" textLength="127" lengthAdjust="spacingAndGlyphs">lee a. (2018)</text>
<text x="267" y="502" font-size="14.3" textLength="124" lengthAdjust="spacingAndGlyphs">jakubik m. (2007)</text>
<text x="450" y="507" font-size="12.1" textLength="86" lengthAdjust="spacingAndGlyphs">rose j. (2016)</text>
<text x="823" y="531" font-size="14" textLength="115" lengthAdjust="spacingAndGlyphs">choi s.b. (2016)</text>
<text x="248" y="532" font-size="14.9" textLength="129" lengthAdjust="spacingAndGlyphs">kodama m. (2007)</text>
<text x="485" y="533" font-size="15.1" textLength="115" lengthAdjust="spacingAndGlyphs">sarin s. (2003)</text>
<text x="627" y="543" font-size="9.7" textLength="84" lengthAdjust="spacingAndGlyphs">lauzier m. (2018)</text>
<text x="840" y="558" font-size="19.8" textLength="203" lengthAdjust="spacingAndGlyphs">srivastava a. (2006)</text>
<text x="299" y="558" font-size="15.1" textLength="126" lengthAdjust="spacingAndGlyphs">rowley j. (2007)</text>
<text x="506" y="557" font-size="11.1" textLength="97" lengthAdjust="spacingAndGlyphs">mahon j.f. (2016)</text>
<text x="666" y="570" font-size="13.6" textLength="118" lengthAdjust="spacingAndGlyphs">bligh m.c. (2006)</text>
<text x="216" y="586" font-size="11.6" textLength="106" lengthAdjust="spacingAndGlyphs">sarfaraz a. (2015)</text>
<text x="330" y="588" font-size="13" textLength="106" lengthAdjust="spacingAndGlyphs">nonaka i. (2016)</text>
<text x="494" y="584" font-size="15.3" textLength="141" lengthAdjust="spacingAndGlyphs">takeishi a. (2002)</text>
<text x="792" y="593" font-size="11.7" textLength="108" lengthAdjust="spacingAndGlyphs">chang y.-y. (2018)</text>
<text x="953" y="599" font-size="22.7" textLength="163" lengthAdjust="spacingAndGlyphs">dong y. (2017)</text>
<text x="220" y="609" font-size="12" textLength="104" lengthAdjust="spacingAndGlyphs">galuppo l. (2011)</text>
<text x="531" y="620" font-size="16.8" textLength="138" lengthAdjust="spacingAndGlyphs">dess g.g. (2003)</text>
<text x="657" y="604" font-size="10.6" textLength="81" lengthAdjust="spacingAndGlyphs">darby r. (2015)</text>
<text x="401" y="620" font-size="11.6" textLength="88" lengthAdjust="spacingAndGlyphs">ahern t. (2015)</text>
<text x="236" y="627" font-size="10.4" textLength="93" lengthAdjust="spacingAndGlyphs">kodama m. (2006a)</text>
<text x="665" y="619" font-size="8.6" textLength="57" lengthAdjust="spacingAndGlyphs">luo j. (2014)</text>
<text x="768" y="630" font-size="14.5" textLength="111" lengthAdjust="spacingAndGlyphs">chang j. (2015)</text>
<text x="588" y="648" font-size="13.3" textLength="136" lengthAdjust="spacingAndGlyphs">cannatelli b. (2017)</text>
<text x="361" y="653" font-size="15.2" textLength="148" lengthAdjust="spacingAndGlyphs">linderman k. (2010)</text>
<text x="890" y="655" font-size="16" textLength="139" lengthAdjust="spacingAndGlyphs">zhang a.y. (2011)</text>
<text x="452" y="678" font-size="14.1" textLength="130" lengthAdjust="spacingAndGlyphs">berglund h. (2013)</text>
<text x="233" y="673" font-size="13.2" textLength="110" lengthAdjust="spacingAndGlyphs">kodama m. (2004)</text>
<text x="766" y="694" font-size="17.3" textLength="177" lengthAdjust="spacingAndGlyphs">gumuslu lu l. (2009)</text>
<text x="191" y="701" font-size="15.7" textLength="137" lengthAdjust="spacingAndGlyphs">kodama m. (2005a)</text>
<text x="554" y="706" font-size="12.4" textLength="108" lengthAdjust="spacingAndGlyphs">lee a.h.i. (2008)</text>
<text x="223" y="719" font-size="11.9" textLength="108" lengthAdjust="spacingAndGlyphs">kodama m. (2005d)</text>
<text x="503" y="723" font-size="10.4" textLength="93" lengthAdjust="spacingAndGlyphs">machado m. (2013)</text>
<text x="786" y="736" font-size="12.7" textLength="117" lengthAdjust="spacingAndGlyphs">mayfield j. (2008)</text>
<text x="355" y="731" font-size="17.3" textLength="150" lengthAdjust="spacingAndGlyphs">van ees h. (2009)</text>
<text x="532" y="745" font-size="15.7" textLength="160" lengthAdjust="spacingAndGlyphs">sutherland i. (2013)</text>
<text x="379" y="760" font-size="10.9" textLength="95" lengthAdjust="spacingAndGlyphs">park t.-y. (2014)</text>
<text x="588" y="772" font-size="11.3" textLength="133" lengthAdjust="spacingAndGlyphs">alsudairi m.a.t. (2014)</text>
<text x="795" y="800" font-size="11.1" textLength="80" lengthAdjust="spacingAndGlyphs">doan t. (2009)</text>
</g>

<g id="legend-table" class="tb">
<rect x="43" y="832" width="1004" height="266" fill="none" stroke="#000" stroke-width="2.5"/>
<line x1="545" y1="832" x2="545" y2="1098" stroke="#000" stroke-width="2.5"/>
<line x1="43" y1="965" x2="1047" y2="965" stroke="#000" stroke-width="2.5"/>
<g id="cluster1">
<text x="295" y="868"><tspan class="bd">Cluster 1 – Red: </tspan><tspan class="it cr">Human and</tspan></text>
<text x="294" y="911" class="it cr">relational aspects</text>
<text x="294" y="955">122 papers – 3175 citations</text>
</g>
<g id="cluster2">
<text x="796" y="868"><tspan class="bd">Cluster 2 - Blue: </tspan><tspan class="it cb">Systemic and</tspan></text>
<text x="795" y="911" class="it cb">performance aspects</text>
<text x="797" y="955">99 papers – 4012 citations</text>
</g>
<g id="cluster3">
<text x="294" y="1002"><tspan class="bd">Cluster 3 – Green: </tspan><tspan class="it cg">Contextual</tspan></text>
<text x="294" y="1044" class="it cg">and contingent aspects</text>
<text x="294" y="1088">121 papers – 3741 citations</text>
</g>
<g id="cluster4">
<text x="796" y="1002"><tspan class="bd">Cluster 4 – Yellow: </tspan><tspan class="it cy">Cultural</tspan></text>
<text x="796" y="1044" class="it cy">and learning aspects</text>
<text x="796" y="1088">108 papers – 3686 citations</text>
</g>
</g>
</svg>
